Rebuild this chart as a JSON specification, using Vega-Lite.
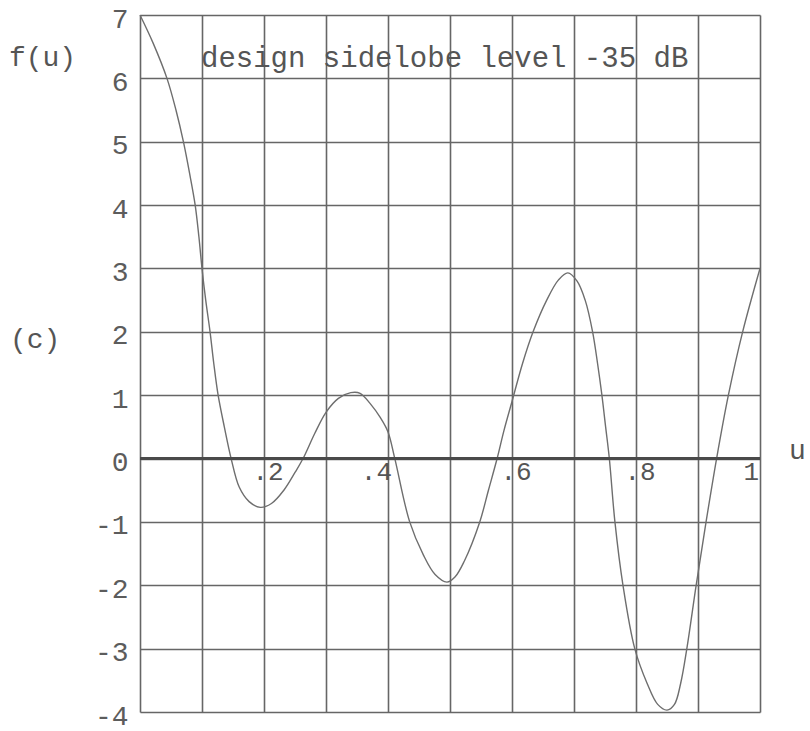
{
  "$schema": "https://vega.github.io/schema/vega-lite/v6.json",
  "width": 620,
  "height": 697,
  "autosize": {"type": "none"},
  "padding": {"left": 140, "top": 15, "right": 50, "bottom": 19},
  "background": "white",
  "config": {"view": {"stroke": null}, "font": "Liberation Mono"},
  "data": {"values": [{}]},
  "layer": [
    {
      "data": {"values": [
        {"u": 0, "f": 7}, {"u": 0.021, "f": 6.56}, {"u": 0.0435, "f": 6}, {"u": 0.058, "f": 5.5},
        {"u": 0.07, "f": 5}, {"u": 0.08, "f": 4.5}, {"u": 0.089, "f": 4}, {"u": 0.095, "f": 3.5},
        {"u": 0.1, "f": 3}, {"u": 0.106, "f": 2.5}, {"u": 0.113, "f": 2}, {"u": 0.119, "f": 1.5},
        {"u": 0.126, "f": 1}, {"u": 0.136, "f": 0.5}, {"u": 0.147, "f": 0}, {"u": 0.16, "f": -0.45},
        {"u": 0.176, "f": -0.68}, {"u": 0.194, "f": -0.77}, {"u": 0.212, "f": -0.71}, {"u": 0.232, "f": -0.5},
        {"u": 0.25, "f": -0.22}, {"u": 0.263, "f": 0}, {"u": 0.282, "f": 0.4}, {"u": 0.3, "f": 0.73},
        {"u": 0.32, "f": 0.95}, {"u": 0.34, "f": 1.04}, {"u": 0.355, "f": 1.03}, {"u": 0.371, "f": 0.87},
        {"u": 0.388, "f": 0.64}, {"u": 0.4, "f": 0.42}, {"u": 0.411, "f": 0}, {"u": 0.435, "f": -1},
        {"u": 0.457, "f": -1.52}, {"u": 0.476, "f": -1.83}, {"u": 0.495, "f": -1.95}, {"u": 0.508, "f": -1.87},
        {"u": 0.523, "f": -1.62}, {"u": 0.548, "f": -1}, {"u": 0.562, "f": -0.5}, {"u": 0.576, "f": 0},
        {"u": 0.587, "f": 0.44}, {"u": 0.6, "f": 0.9}, {"u": 0.617, "f": 1.5}, {"u": 0.634, "f": 2},
        {"u": 0.656, "f": 2.5}, {"u": 0.675, "f": 2.82}, {"u": 0.69, "f": 2.93}, {"u": 0.705, "f": 2.8},
        {"u": 0.718, "f": 2.5}, {"u": 0.73, "f": 2}, {"u": 0.738, "f": 1.5}, {"u": 0.745, "f": 1},
        {"u": 0.751, "f": 0.5}, {"u": 0.757, "f": 0}, {"u": 0.766, "f": -1}, {"u": 0.779, "f": -2},
        {"u": 0.798, "f": -3}, {"u": 0.818, "f": -3.55}, {"u": 0.835, "f": -3.88}, {"u": 0.85, "f": -3.97},
        {"u": 0.862, "f": -3.88}, {"u": 0.872, "f": -3.55}, {"u": 0.882, "f": -3}, {"u": 0.897, "f": -2},
        {"u": 0.913, "f": -1}, {"u": 0.93, "f": 0}, {"u": 0.949, "f": 1}, {"u": 0.972, "f": 2},
        {"u": 1.0, "f": 3}
      ]},
      "mark": {"type": "line", "interpolate": "catmull-rom", "color": "#6e6e6e", "strokeWidth": 1.4},
      "encoding": {
        "x": {
          "field": "u", "type": "quantitative",
          "scale": {"domain": [0, 1], "nice": false, "zero": false},
          "axis": {
            "values": [0, 0.1, 0.2, 0.3, 0.4, 0.5, 0.6, 0.7, 0.8, 0.9, 1],
            "grid": true, "gridColor": "#666666", "gridWidth": 1.6, "gridOpacity": 1,
            "labels": false, "ticks": false, "domain": false,
            "title": "u", "titleFont": "Liberation Mono", "titleFontSize": 28, "titleFontWeight": "normal",
            "titleColor": "#555555", "titleX": 657, "titleY": -254, "titleAlign": "center",
            "titleBaseline": "alphabetic", "titleAngle": 0
          }
        },
        "y": {
          "field": "f", "type": "quantitative",
          "scale": {"domain": [-4, 7], "nice": false, "zero": false},
          "axis": {
            "values": [-4, -3, -2, -1, 0, 1, 2, 3, 4, 5, 6, 7],
            "grid": true, "gridColor": "#666666", "gridWidth": 1.6, "gridOpacity": 1,
            "ticks": false, "domain": false, "labelOverlap": false,
            "labelFont": "Liberation Mono", "labelFontSize": 28, "labelColor": "#5c5c5c",
            "labelPadding": 12, "labelOffset": 4, "labelBaseline": "middle",
            "labelExpr": "datum.value < 0 ? '-' + abs(datum.value) : '' + datum.value",
            "title": "f(u)", "titleFont": "Liberation Mono", "titleFontSize": 28, "titleFontWeight": "normal",
            "titleColor": "#555555", "titleAngle": 0, "titleX": -98, "titleY": 50,
            "titleAlign": "center", "titleBaseline": "alphabetic"
          }
        }
      }
    },
    {
      "mark": {"type": "rule", "color": "#4a4a4a", "strokeWidth": 3},
      "encoding": {"y": {"datum": 0}}
    },
    {
      "data": {"values": [{"u": 0.2, "label": ".2"}, {"u": 0.6, "label": ".6"}, {"u": 0.8, "label": ".8"}]},
      "mark": {"type": "text", "font": "Liberation Mono", "fontSize": 26, "color": "#555555", "align": "center", "baseline": "alphabetic", "dx": 4, "dy": 21},
      "encoding": {"x": {"field": "u", "type": "quantitative"}, "y": {"datum": 0}, "text": {"field": "label"}}
    },
    {
      "data": {"values": [{"u": 0.4, "label": ".4"}]},
      "mark": {"type": "text", "font": "Liberation Mono", "fontSize": 26, "color": "#555555", "align": "right", "baseline": "alphabetic", "dx": 4, "dy": 21},
      "encoding": {"x": {"field": "u", "type": "quantitative"}, "y": {"datum": 0}, "text": {"field": "label"}}
    },
    {
      "data": {"values": [{"u": 1, "label": "1"}]},
      "mark": {"type": "text", "font": "Liberation Mono", "fontSize": 26, "color": "#555555", "align": "right", "baseline": "alphabetic", "dx": -1, "dy": 21},
      "encoding": {"x": {"field": "u", "type": "quantitative"}, "y": {"datum": 0}, "text": {"field": "label"}}
    },
    {
      "mark": {"type": "text", "font": "Liberation Mono", "fontSize": 29, "color": "#555555", "align": "left", "baseline": "alphabetic", "dx": -1},
      "encoding": {"x": {"datum": 0.1}, "y": {"datum": 6.18}, "text": {"value": "design sidelobe level -35 dB"}}
    },
    {
      "mark": {"type": "text", "font": "Liberation Mono", "fontSize": 28, "color": "#555555", "align": "center", "baseline": "alphabetic"},
      "encoding": {"x": {"datum": -0.169}, "y": {"datum": 1.75}, "text": {"value": "(c)"}}
    }
  ]
}
